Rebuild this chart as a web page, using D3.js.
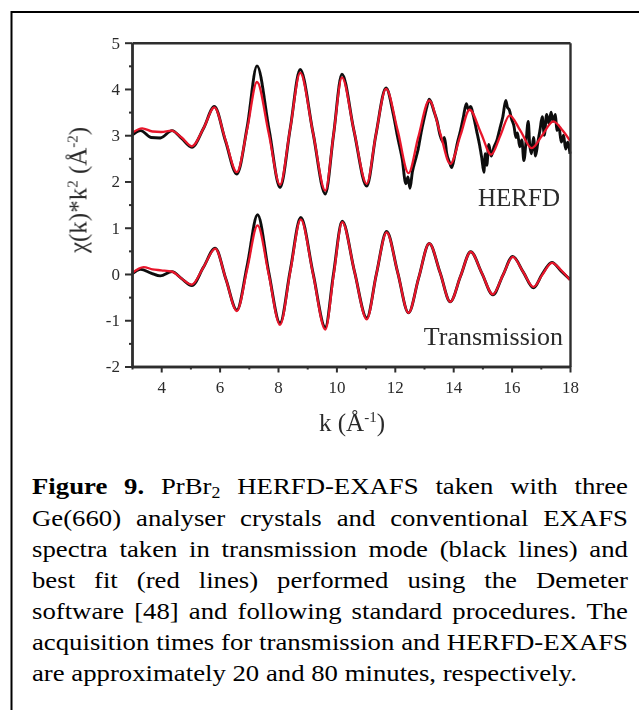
<!DOCTYPE html>
<html>
<head>
<meta charset="utf-8">
<script src="https://cdn.jsdelivr.net/npm/d3@7/dist/d3.min.js"></script>
<style>
  html, body { margin: 0; padding: 0; background: #fff; }
  svg { display: block; }
  svg text { font-family: "Liberation Serif", "Times New Roman", Times, serif; }
</style>
</head>
<body>
<svg id="fig" width="639" height="710"></svg>
<script>
// k-space EXAFS spectra, chi(k)*k^2; HERFD curves are shifted up by 3 units.
const kTicksMajor = [4, 6, 8, 10, 12, 14, 16, 18];
const kTicksMinor = [3, 5, 7, 9, 11, 13, 15, 17];
const yTicksMajor = [-2, -1, 0, 1, 2, 3, 4, 5];
const yTicksMinor = [-1.5, -0.5, 0.5, 1.5, 2.5, 3.5, 4.5];

// HERFD measured spectrum (black)
const herfdDataK = [3.0, 3.3, 3.65, 3.97, 4.37, 4.7, 5.05, 5.45, 5.82, 6.2, 6.59, 6.95, 7.28, 7.7, 8.07, 8.42, 8.76, 9.2, 9.62, 9.9, 10.19, 10.6, 11.04, 11.35, 11.7, 11.95,
  12.1, 12.25, 12.38, 12.45, 12.52, 12.6, 12.72, 12.8, 12.9, 13.0, 13.1, 13.18, 13.25, 13.35, 13.45, 13.55, 13.65, 13.7, 13.78, 13.88, 13.95,
  14.05, 14.15, 14.25, 14.35, 14.45, 14.52, 14.6, 14.68, 14.8, 14.9, 14.98, 15.05, 15.1, 15.15, 15.22, 15.3, 15.4, 15.5, 15.6, 15.7, 15.8, 15.86, 15.92,
  16.0, 16.08, 16.15, 16.2, 16.28, 16.35, 16.42, 16.5, 16.57, 16.62, 16.68, 16.75, 16.82, 16.9, 16.97, 17.05, 17.12, 17.2, 17.28, 17.35, 17.42, 17.5, 17.55, 17.62, 17.7, 17.78, 17.85, 17.92, 18.0];
const herfdDataV = [3.0, 3.1, 2.95, 2.94, 3.1, 2.93, 2.74, 3.15, 3.62, 2.88, 2.16, 3.2, 4.5, 3.1, 1.87, 3.15, 4.42, 3.05, 1.73, 3.0, 4.32, 3.1, 1.9, 3.0, 4.02, 3.45,
  2.95, 2.5, 1.95, 2.1, 1.85, 2.2, 2.5, 2.7, 3.05, 3.35, 3.62, 3.78, 3.7, 3.5, 3.3, 3.0, 2.85, 2.95, 2.6, 2.4, 2.3,
  2.55, 2.85, 3.1, 3.4, 3.68, 3.55, 3.62, 3.45, 3.1, 2.8, 2.5, 2.2, 2.6, 2.35, 2.8, 2.55, 2.75, 2.9, 3.15, 3.4, 3.75, 3.6, 3.55,
  3.35, 3.2, 2.95, 3.05, 2.75, 2.9, 2.45, 2.9, 3.3, 2.8, 2.6, 2.95, 2.55, 2.85, 3.1, 3.4, 3.0, 3.45, 3.25, 3.5, 3.3, 3.45, 3.1, 3.2, 2.85, 3.0, 2.7, 2.85, 2.6];

// HERFD best fit (red)
const herfdFitK = [3.0, 3.35, 3.7, 4.0, 4.35, 4.7, 5.05, 5.45, 5.82, 6.2, 6.59, 6.95, 7.28, 7.68, 8.07, 8.42, 8.76, 9.2, 9.62, 9.9, 10.19, 10.6, 11.04, 11.35, 11.7, 12.1, 12.47, 12.8, 13.18, 13.55, 13.9, 14.25, 14.56, 14.95, 15.3, 15.62, 15.93, 16.3, 16.69, 17.05, 17.43, 17.75, 18.0];
const herfdFitV = [3.05, 3.15, 3.08, 3.07, 3.1, 2.95, 2.76, 3.15, 3.6, 2.9, 2.2, 3.15, 4.15, 3.05, 1.93, 3.15, 4.35, 3.05, 1.8, 3.0, 4.25, 3.1, 1.95, 3.0, 4.0, 3.1, 2.18, 2.95, 3.75, 3.05, 2.38, 3.0, 3.55, 3.05, 2.58, 3.0, 3.43, 3.1, 2.72, 3.0, 3.3, 3.1, 2.88];

// Transmission measured spectrum (black)
const transDataK = [3.0, 3.3, 3.65, 3.97, 4.37, 4.7, 5.05, 5.45, 5.85, 6.22, 6.59, 6.95, 7.3, 7.68, 8.07, 8.42, 8.78, 9.2, 9.62, 9.9, 10.2, 10.62, 11.04, 11.37, 11.72, 12.1, 12.47, 12.82, 13.18, 13.55, 13.9, 14.25, 14.6, 14.98, 15.36, 15.7, 16.04, 16.4, 16.75, 17.05, 17.38, 17.7, 18.0];
const transDataV = [0.0, 0.1, 0.02, -0.04, 0.05, -0.1, -0.25, 0.15, 0.56, -0.12, -0.78, 0.2, 1.28, 0.05, -1.06, 0.08, 1.22, 0.02, -1.15, 0.0, 1.14, 0.05, -0.95, 0.0, 0.92, 0.03, -0.84, -0.08, 0.66, 0.03, -0.6, -0.05, 0.48, 0.02, -0.45, -0.03, 0.38, 0.04, -0.3, 0.0, 0.25, 0.06, -0.12];

// Transmission best fit (red)
const transFitK = [3.0, 3.4, 3.7, 4.0, 4.37, 4.7, 5.05, 5.45, 5.85, 6.22, 6.59, 6.95, 7.3, 7.68, 8.07, 8.42, 8.78, 9.2, 9.62, 9.9, 10.2, 10.62, 11.04, 11.37, 11.72, 12.1, 12.47, 12.82, 13.18, 13.55, 13.9, 14.25, 14.6, 14.98, 15.36, 15.7, 16.04, 16.4, 16.75, 17.05, 17.38, 17.7, 18.0];
const transFitV = [0.02, 0.15, 0.1, 0.08, 0.05, -0.1, -0.23, 0.15, 0.55, -0.12, -0.8, 0.12, 1.05, 0.0, -1.1, 0.05, 1.18, 0.0, -1.2, -0.05, 1.12, 0.05, -0.98, 0.0, 0.9, 0.03, -0.84, -0.08, 0.66, 0.03, -0.6, -0.05, 0.48, 0.02, -0.44, -0.03, 0.37, 0.04, -0.28, -0.02, 0.24, 0.08, -0.13];

const captionLines = [
  [{ t: "Figure", bold: true }, { t: "9.", bold: true }, { t: "PrBr", sub: "2" }, "HERFD-EXAFS", "taken", "with", "three"],
  "Ge(660) analyser crystals and conventional EXAFS",
  "spectra taken in transmission mode (black lines) and",
  "best fit (red lines) performed using the Demeter",
  "software [48] and following standard procedures. The",
  "acquisition times for transmission and HERFD-EXAFS",
  "are approximately 20 and 80 minutes, respectively."
];

const FONT = '"Liberation Serif", "Times New Roman", Times, serif';
const svg = d3.select("#fig");

// soft focus for the plot panel
svg.append("defs").append("filter").attr("id", "soft")
  .attr("x", "-5%").attr("y", "-5%").attr("width", "110%").attr("height", "110%")
  .append("feGaussianBlur").attr("stdDeviation", 0.7);

// outer frame (left and top edges)
svg.append("path")
  .attr("d", "M11.5,710 L11.5,12 L640,12")
  .attr("fill", "none").attr("stroke", "#000").attr("stroke-width", 2);

const x = d3.scaleLinear().domain([3, 18]).range([132, 570]);
const y = d3.scaleLinear().domain([-2, 5]).range([366.5, 42.7]);

const plot = svg.append("g").attr("filter", "url(#soft)");
const axisColor = "#2e2e2e";

function styleAxis(g, labels) {
  g.attr("font-family", null).attr("font-size", null);
  g.select(".domain").attr("stroke", axisColor).attr("stroke-width", 2.4);
  g.selectAll(".tick line").attr("stroke", axisColor).attr("stroke-width", 2);
  g.selectAll(".tick text")
    .style("font-family", FONT).style("font-size", "17px").attr("fill", "#2c2c2c");
  if (!labels) g.selectAll(".tick text").remove();
}

const fmt = d => (d < 0 ? "-" + Math.abs(d) : String(d));

// curves
const line = d3.line().curve(d3.curveMonotoneX)
  .x(d => x(d[0])).y(d => y(d[1]));
const series = [
  { k: herfdDataK, v: herfdDataV, color: "#0c0c0c", w: 2.9 },
  { k: herfdFitK, v: herfdFitV, color: "#e8152c", w: 2.3 },
  { k: transDataK, v: transDataV, color: "#0c0c0c", w: 2.9 },
  { k: transFitK, v: transFitV, color: "#e8152c", w: 2.3 }
];
series.forEach(s => {
  plot.append("path")
    .datum(s.k.map((k, i) => [k, s.v[i]]))
    .attr("d", line)
    .attr("fill", "none").attr("stroke", s.color)
    .attr("stroke-width", s.w).attr("stroke-linejoin", "round");
});

// axes
plot.append("g").attr("transform", "translate(0,366.5)")
  .call(d3.axisBottom(x).tickValues(kTicksMinor).tickSize(3).tickSizeOuter(0))
  .call(g => styleAxis(g, false));
plot.append("g").attr("transform", "translate(0,366.5)")
  .call(d3.axisBottom(x).tickValues(kTicksMajor).tickSize(6).tickPadding(8).tickSizeOuter(0))
  .call(g => styleAxis(g, true));
plot.append("g").attr("transform", "translate(132,0)")
  .call(d3.axisLeft(y).tickValues(yTicksMinor).tickSize(3).tickSizeOuter(0))
  .call(g => styleAxis(g, false));
plot.append("g").attr("transform", "translate(132,0)")
  .call(d3.axisLeft(y).tickValues(yTicksMajor).tickSize(7).tickPadding(5).tickFormat(fmt).tickSizeOuter(0))
  .call(g => styleAxis(g, true));
plot.append("g").attr("transform", "translate(0,42.7)")
  .call(d3.axisTop(x).tickValues([]).tickSizeOuter(0))
  .call(g => styleAxis(g, false));
plot.append("g").attr("transform", "translate(570,0)")
  .call(d3.axisRight(y).tickValues([]).tickSizeOuter(0))
  .call(g => styleAxis(g, false));

function txt(parent) {
  return parent.append("text").style("font-family", FONT).attr("fill", "#2c2c2c");
}

// in-plot labels
txt(plot).attr("x", 560).attr("y", 206).attr("text-anchor", "end")
  .style("font-size", "25px").text("HERFD");
txt(plot).attr("x", 563).attr("y", 345).attr("text-anchor", "end")
  .style("font-size", "26px").text("Transmission");

// axis titles
const xt = txt(plot).attr("x", 352).attr("y", 431).attr("text-anchor", "middle")
  .style("font-size", "25px");
xt.append("tspan").text("k (Å");
xt.append("tspan").attr("dy", -9).style("font-size", "15px").text("-1");
xt.append("tspan").attr("dy", 9).text(")");

const yt = txt(plot).attr("transform", "translate(86.5,190) rotate(-90)")
  .attr("text-anchor", "middle").style("font-size", "25px");
yt.append("tspan").text("χ(k)*k");
yt.append("tspan").attr("dy", -9).style("font-size", "15px").text("2");
yt.append("tspan").attr("dy", 9).text(" (Å");
yt.append("tspan").attr("dy", -9).style("font-size", "15px").text("-2");
yt.append("tspan").attr("dy", 9).text(")");

// caption, justified between left and right margins
const capLeft = 32, capRight = 628, lastLineRight = 577;
const baseline0 = 494.5, leading = 31.1;
const capSize = 24;
const cap = svg.append("g");

function addWord(parent, w, yy) {
  const t = parent.append("text").attr("y", yy)
    .style("font-family", FONT).style("font-size", capSize + "px").attr("fill", "#000");
  if (typeof w === "string") {
    t.text(w);
  } else {
    const main = t.append("tspan").text(w.t);
    if (w.bold) main.style("font-weight", "bold");
    if (w.sub) {
      t.append("tspan").attr("dy", 4).style("font-size", "16px").text(w.sub);
    }
  }
  return t;
}

const probe = addWord(cap, captionLines[captionLines.length - 1], 0);
const natural = probe.node().getComputedTextLength();
probe.remove();
const sx = (lastLineRight - capLeft) / natural;
cap.attr("transform", `translate(${capLeft},0) scale(${sx},1)`);
const target = (capRight - capLeft) / sx;

captionLines.forEach((ln, i) => {
  const yy = baseline0 + i * leading;
  if (i === captionLines.length - 1) {
    addWord(cap, ln, yy);
    return;
  }
  const words = typeof ln === "string" ? ln.split(" ") : ln;
  const nodes = words.map(w => addWord(cap, w, yy));
  const widths = nodes.map(n => n.node().getComputedTextLength());
  const total = d3.sum(widths);
  const gap = (target - total) / (words.length - 1);
  let cx = 0;
  nodes.forEach((n, j) => {
    n.attr("x", cx);
    cx += widths[j] + gap;
  });
});
</script>
</body>
</html>
